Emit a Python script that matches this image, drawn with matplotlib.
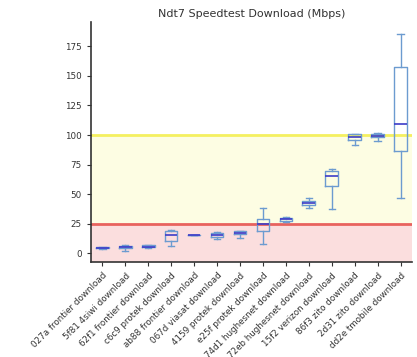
import matplotlib
matplotlib.use("Agg")
import matplotlib.pyplot as plt

labels = ["027a frontier download", "5f81 4siwi download", "62f1 frontier download",
          "c6c9 protek download", "ab88 frontier download", "067d viasat download",
          "4159 protek download", "e25f protek download", "74d1 hughesnet download",
          "72eb hughesnet download", "15f2 verizon download", "86f3 zito download",
          "2d31 zito download", "dd2e tmobile download"]
whislo = [3.5, 2.0, 4.0, 6.0, 15.0, 12.0, 12.5, 8.0, 26.0, 38.0, 37.0, 91.5, 94.5, 47.0]
q1     = [4.0, 4.0, 5.0, 10.5, 15.0, 14.0, 16.0, 19.0, 27.0, 40.5, 56.5, 96.0, 98.0, 86.5]
med    = [4.5, 5.0, 5.5, 15.0, 15.0, 15.5, 17.0, 25.0, 28.5, 42.5, 65.5, 98.5, 99.5, 109.5]
q3     = [5.0, 6.0, 6.5, 19.0, 15.0, 17.0, 18.5, 29.0, 30.0, 44.5, 69.5, 100.5, 101.0, 157.5]
whishi = [5.5, 7.0, 7.0, 19.5, 15.0, 18.0, 19.0, 38.5, 30.5, 47.0, 71.0, 101.0, 101.5, 185.5]
thresholds = [25, 100]

fig = plt.figure(figsize=(4.17, 3.57), dpi=100)
ax = fig.add_axes([0.218, 0.266, 0.770, 0.672])

ylo, yhi = -7.6, 195.6
ax.set_ylim(ylo, yhi)
ax.set_xlim(0.5, len(labels) + 0.5)

ax.axhspan(ylo, thresholds[0], color="#fbdede", zorder=0)
ax.axhspan(thresholds[0], thresholds[1], color="#fdfde3", zorder=0)
ax.axhline(thresholds[0], color="#e8625e", lw=2, zorder=1)
ax.axhline(thresholds[1], color="#f5f060", lw=2, zorder=1)

stats = []
for i, lab in enumerate(labels):
    stats.append(dict(label=lab, whislo=whislo[i], q1=q1[i], med=med[i],
                      q3=q3[i], whishi=whishi[i], fliers=[]))

boxc = "#6c9bd0"
ax.bxp(stats, positions=range(1, len(labels) + 1), widths=0.55, showfliers=False,
       boxprops=dict(color=boxc, lw=1.0),
       whiskerprops=dict(color=boxc, lw=1.0),
       capprops=dict(color=boxc, lw=1.0),
       medianprops=dict(color="#3c3cc8", lw=1.2), zorder=3)

ax.set_yticks([0, 25, 50, 75, 100, 125, 150, 175])
ax.set_xticks(range(1, len(labels) + 1))
ax.set_xticklabels(labels, rotation=45, ha="right", rotation_mode="anchor")
ax.tick_params(labelsize=6.3, colors="#333333", length=3)
for s in ["top", "right"]:
    ax.spines[s].set_visible(False)
ax.spines["left"].set_color("#333333")
ax.spines["bottom"].set_color("#333333")
ax.spines["left"].set_linewidth(1.2)
ax.spines["bottom"].set_linewidth(1.2)
ax.set_title("Ndt7 Speedtest Download (Mbps)", fontsize=8, color="#333333", pad=3.5)

fig.savefig("out.png", dpi=100)
